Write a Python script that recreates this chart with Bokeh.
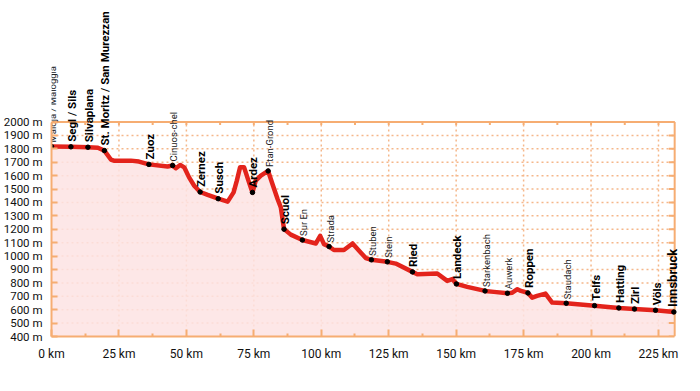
import math
from bokeh.plotting import figure
from bokeh.models import (ColumnDataSource, FixedTicker, Range1d,
                          CustomJSTickFormatter)
from bokeh.core.properties import value
from bokeh.embed import file_html
from bokeh.resources import INLINE

# ---- data -------------------------------------------------------------
profile_km = [0, 7.2, 13.5, 17.2, 19.6, 22.0, 23.1, 29.4, 32.4, 36.1, 43.0, 44.9,
              46.1, 47.7, 49.2, 51.0, 52.9, 55.1, 57.9, 61.8, 65.3, 67.5, 68.7,
              69.9, 71.4, 73.0, 74.5, 75.7, 77.6, 80.3, 81.9, 83.8, 85.0, 86.2,
              88.7, 93.0, 98.0, 99.6, 101.0, 102.9, 104.7, 108.4, 111.6, 114.6,
              116.5, 118.6, 124.5, 127.6, 133.8, 135.6, 143.0, 146.7, 148.6,
              150.1, 154.1, 160.7, 164.0, 169.0, 170.8, 172.7, 174.0, 176.6,
              178.2, 180.0, 183.1, 185.6, 190.8, 201.3, 210.3, 216.1, 223.9, 230.7]
profile_elev = [1817, 1815, 1812, 1808, 1787, 1720, 1712, 1712, 1705, 1684, 1668, 1676,
                1655, 1680, 1662, 1587, 1525, 1478, 1456, 1428, 1406, 1475, 1563,
                1662, 1662, 1563, 1475, 1563, 1600, 1635, 1538, 1426, 1363, 1201,
                1160, 1120, 1094, 1151, 1089, 1071, 1045, 1045, 1094, 1027,
                985, 972, 957, 944, 882, 865, 870, 815, 828,
                792, 770, 740, 733, 723, 727, 753, 740, 725,
                690, 703, 720, 653, 648, 630, 613, 605, 596, 583]

place_names = ["Maloja / Maloggia", "Segl / Sils", "Silvaplana", "St. Moritz / San Murezzan",
               "Zuoz", "Cinuos-chel", "Zernez", "Susch", "Ardez", "Ftan-Grond", "Scuol",
               "Sur En", "Strada", "Stuben", "Stein", "Ried", "Landeck", "Starkenbach",
               "Auwerk", "Roppen", "Staudach", "Telfs", "Hatting", "Zirl", "Völs", "Innsbruck"]
place_km = [0, 7.2, 13.5, 19.6, 36.1, 44.9, 55.1, 61.8, 74.5, 80.3, 86.2,
            93.0, 102.9, 118.6, 124.5, 133.8, 150.1, 160.7,
            169.0, 176.6, 190.8, 201.3, 210.3, 216.1, 223.9, 230.7]
place_elev = [1817, 1815, 1812, 1787, 1684, 1676, 1478, 1428, 1475, 1635, 1201,
              1120, 1071, 972, 957, 882, 792, 740,
              723, 725, 648, 630, 613, 605, 596, 583]
place_major = [False, True, True, True, True, False, True, True, True, False, True,
               False, False, False, False, True, True, False,
               False, True, False, True, True, True, True, True]

x_ticks = [0, 25, 50, 75, 100, 125, 150, 175, 200, 225]
x_minor = [12.5, 37.5, 62.5, 87.5, 112.5, 137.5, 162.5, 187.5, 212.5]
y_ticks = list(range(400, 2001, 100))
KM_END = 231
ELEV_MIN, ELEV_MAX = 400, 2000

# ---- styling ----------------------------------------------------------
ORANGE = "#f6ad72"
GRID = "#f5b78a"
RED = "#e3241c"
PINK = "#fde3e3"
FONT = "Roboto"

p = figure(width=684, height=376, output_backend="svg", toolbar_location=None,
           x_range=Range1d(0, 233.9), y_range=Range1d(ELEV_MIN, 2832),
           min_border_left=49, min_border_right=2, min_border_top=10,
           min_border_bottom=40)
p.outline_line_color = None
p.background_fill_color = "white"
p.xgrid.visible = False
p.ygrid.visible = False

# dotted grid (inside the 400–2000 m frame only)
inner_y = [t for t in y_ticks if ELEV_MIN < t < ELEV_MAX]
inner_x = [t for t in x_ticks if 0 < t < KM_END]
p.segment(x0=[0] * len(inner_y), x1=[KM_END] * len(inner_y), y0=inner_y, y1=inner_y,
          line_color=GRID, line_width=1.5, line_dash="2 3")
p.segment(x0=inner_x, x1=inner_x, y0=[ELEV_MIN] * len(inner_x), y1=[ELEV_MAX] * len(inner_x),
          line_color=GRID, line_width=1.5, line_dash="2 3")

# fill
p.varea(x=profile_km, y1=ELEV_MIN, y2=profile_elev, fill_color=PINK, fill_alpha=0.85)

# frame: top line, right line and their inward ticks
p.segment(x0=[0], x1=[KM_END], y0=[ELEV_MAX], y1=[ELEV_MAX],
          line_color=ORANGE, line_width=2)
p.segment(x0=[KM_END], x1=[KM_END], y0=[ELEV_MIN], y1=[ELEV_MAX],
          line_color=ORANGE, line_width=2)
top_ticks = sorted(x_ticks + x_minor)
p.segment(x0=top_ticks, x1=top_ticks, y0=[ELEV_MAX] * len(top_ticks),
          y1=[ELEV_MAX - 22] * len(top_ticks), line_color=ORANGE, line_width=2)
p.segment(x0=[KM_END] * len(y_ticks), x1=[KM_END - 2.2] * len(y_ticks), y0=y_ticks,
          y1=y_ticks, line_color=ORANGE, line_width=2)

# profile line and places
p.line(profile_km, profile_elev, line_color=RED, line_width=4.5, line_join="round")
p.scatter(place_km, place_elev, size=4.5, color="black")

# axes
p.xaxis.ticker = FixedTicker(ticks=x_ticks, minor_ticks=x_minor)
p.xaxis.formatter = CustomJSTickFormatter(code="return tick + ' km'")
p.xaxis.bounds = (0, KM_END)
p.yaxis.ticker = FixedTicker(ticks=y_ticks)
p.yaxis.formatter = CustomJSTickFormatter(code="return tick + ' m'")
p.yaxis.bounds = (ELEV_MIN, ELEV_MAX)
for ax in (p.xaxis[0], p.yaxis[0]):
    ax.axis_line_color = ORANGE
    ax.axis_line_width = 2
    ax.major_tick_line_color = ORANGE
    ax.major_tick_line_width = 2
    ax.minor_tick_line_color = ORANGE
    ax.minor_tick_line_width = 2
    ax.major_tick_out = 0
    ax.minor_tick_out = 0
    ax.major_label_text_font = FONT
    ax.major_label_text_color = "#111111"
p.xaxis.major_label_text_font_size = "12px"
p.yaxis.major_label_text_font_size = "11.5px"
p.xaxis.major_tick_in = 7
p.xaxis.minor_tick_in = 3
p.xaxis.major_label_standoff = 10
p.yaxis.major_tick_in = 6
p.yaxis.minor_tick_in = 0
p.yaxis.major_label_standoff = 9

# place labels
def pick(cond):
    idx = [i for i in range(len(place_names)) if cond(i)]
    return ColumnDataSource(dict(x=[place_km[i] for i in idx],
                                 y=[place_elev[i] for i in idx],
                                 t=[place_names[i] for i in idx]))

major_src = pick(lambda i: place_major[i] and place_names[i] != "Innsbruck")
minor_src = pick(lambda i: not place_major[i])
end_src = pick(lambda i: place_names[i] == "Innsbruck")

p.text(x="x", y="y", text="t", source=major_src, angle=math.pi / 2,
       text_align="left", text_baseline="middle", x_offset=1, y_offset=-5,
       text_font=value(FONT), text_font_size="11.5px", text_font_style="bold",
       text_color="black")
p.text(x="x", y="y", text="t", source=minor_src, angle=math.pi / 2,
       text_align="left", text_baseline="middle", x_offset=1, y_offset=-4,
       text_font=value(FONT), text_font_size="9.5px", text_color="#222222")
p.text(x="x", y="y", text="t", source=end_src, angle=math.pi / 2,
       text_align="left", text_baseline="middle", x_offset=-1, y_offset=-5,
       text_font=value(FONT), text_font_size="13px", text_font_style="bold",
       text_color="black")

open("out.html", "w").write(file_html(p, INLINE))
